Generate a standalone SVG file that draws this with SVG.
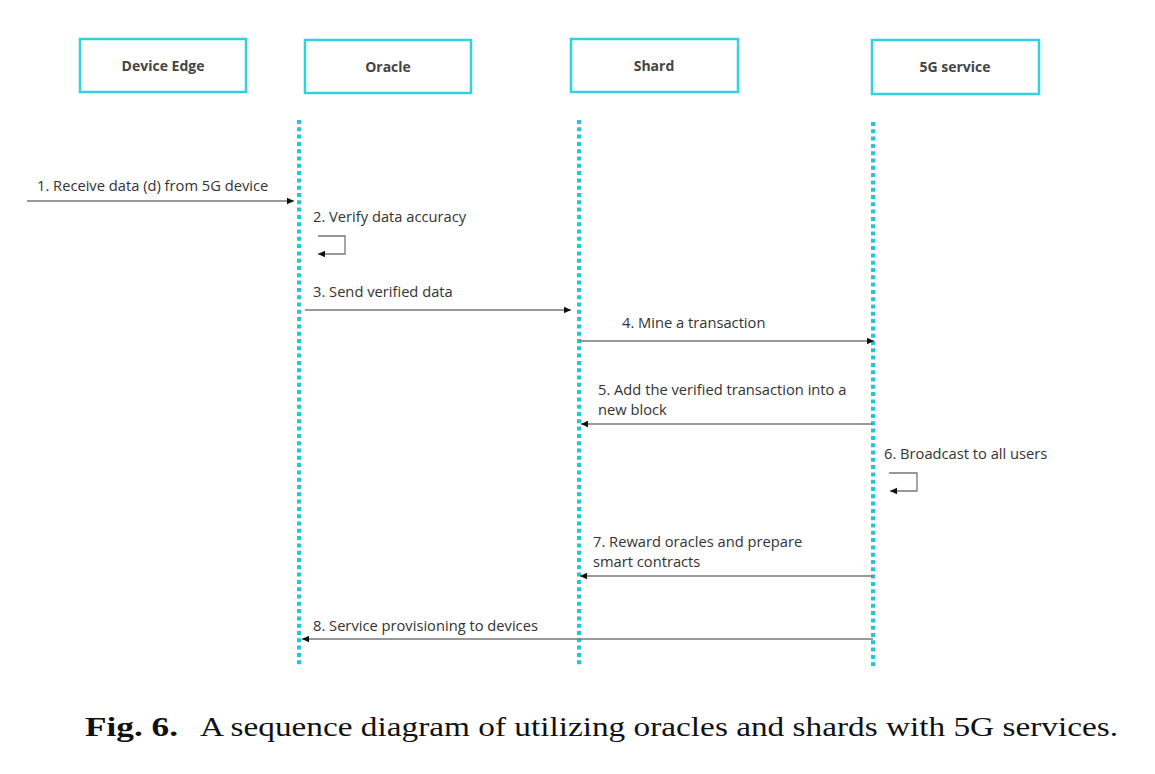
<svg xmlns="http://www.w3.org/2000/svg" width="1155" height="774" viewBox="0 0 1155 774">
<style>
.box{fill:#fff;stroke:#2fd3dc;stroke-width:2.5}
.hd{font-family:"Open Sans","Liberation Sans",sans-serif;font-weight:bold;font-size:14px;fill:#444;text-anchor:middle}
.life{stroke:#1fc8d6;stroke-width:4;stroke-dasharray:4 3.3;fill:none}
.msg{stroke:#777;stroke-width:1.3;fill:none}
.lb{font-family:"Open Sans","Liberation Sans",sans-serif;font-size:14.7px;fill:#333}
.cap{font-family:"Liberation Serif",serif;font-size:27px;fill:#111}
</style>
<defs>
<marker id="ah" markerWidth="8" markerHeight="8" refX="7" refY="4" orient="auto" markerUnits="userSpaceOnUse">
<path d="M0,0.8 L7,4 L0,7.2 Z" fill="#111"/>
</marker>
</defs>
<rect width="1155" height="774" fill="#fff"/>
<g id="device-edge"><rect class="box" x="80" y="39" width="166" height="53"/><text class="hd" x="163" y="71">Device Edge</text></g>
<g id="oracle"><rect class="box" x="305" y="40" width="166" height="53"/><text class="hd" x="388" y="72">Oracle</text></g>
<g id="shard"><rect class="box" x="571" y="39" width="167" height="53"/><text class="hd" x="654" y="71">Shard</text></g>
<g id="service-5g"><rect class="box" x="872" y="40" width="167" height="54"/><text class="hd" x="955" y="72">5G service</text></g>
<g id="lifelines">
<line class="life" x1="299" y1="120" x2="299" y2="666"/>
<line class="life" x1="579" y1="120" x2="579" y2="666"/>
<line class="life" x1="873" y1="122" x2="873" y2="666"/>
</g>
<g id="connectors">
<line class="msg" x1="27" y1="201" x2="294" y2="201" marker-end="url(#ah)"/>
<polyline class="msg" points="318,236 345,236 345,254 318,254" marker-end="url(#ah)"/>
<line class="msg" x1="305" y1="310" x2="571" y2="310" marker-end="url(#ah)"/>
<line class="msg" x1="580" y1="341" x2="874" y2="341" marker-end="url(#ah)"/>
<line class="msg" x1="873" y1="424" x2="581" y2="424" marker-end="url(#ah)"/>
<polyline class="msg" points="889,473 917,473 917,491 890,491" marker-end="url(#ah)"/>
<line class="msg" x1="873" y1="576" x2="580" y2="576" marker-end="url(#ah)"/>
<line class="msg" x1="873" y1="639" x2="302" y2="639" marker-end="url(#ah)"/>
</g>
<g id="labels">
<text class="lb" x="37" y="191">1. Receive data (d) from 5G device</text>
<text class="lb" x="313" y="222">2. Verify data accuracy</text>
<text class="lb" x="313" y="297">3. Send verified data</text>
<text class="lb" x="622" y="328">4. Mine a transaction</text>
<text class="lb" x="598" y="395">5. Add the verified transaction into a</text>
<text class="lb" x="598" y="415">new block</text>
<text class="lb" x="884" y="459">6. Broadcast to all users</text>
<text class="lb" x="593" y="547">7. Reward oracles and prepare</text>
<text class="lb" x="593" y="567">smart contracts</text>
<text class="lb" x="313" y="631">8. Service provisioning to devices</text>
</g>
<g id="caption">
<text class="cap" x="85" y="736" font-weight="bold" textLength="93" lengthAdjust="spacingAndGlyphs">Fig. 6.</text>
<text class="cap" x="200" y="736" textLength="918" lengthAdjust="spacingAndGlyphs">A sequence diagram of utilizing oracles and shards with 5G services.</text>
</g>
</svg>
